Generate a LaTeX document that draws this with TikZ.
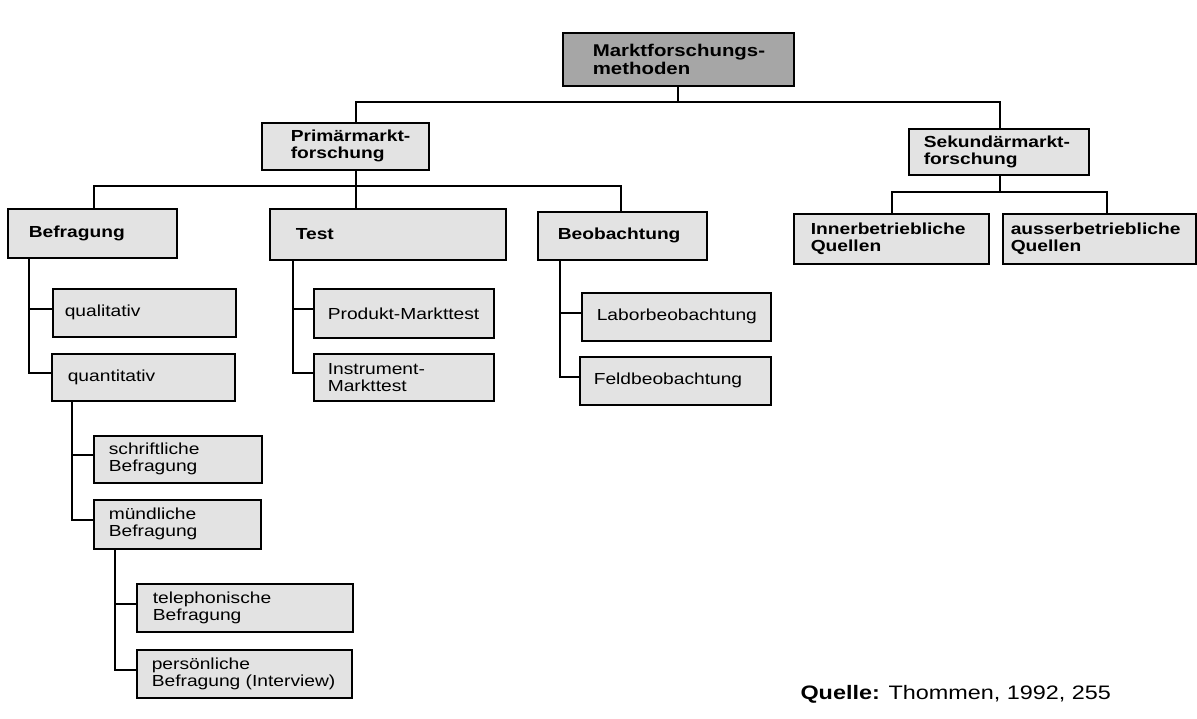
\documentclass[tikz,border=0pt]{standalone}
\usepackage{fontspec}
\setmainfont{Liberation Sans}[FakeStretch=1.2]
\usetikzlibrary{positioning, calc}
\hyphenpenalty=10000
\exhyphenpenalty=10000

\begin{document}
\begin{tikzpicture}[%
		x=1pt, y=-1pt,
		box/.style={
			rectangle,
			line width=1.6pt,
			black,
			draw,
			fill=black!11,
			anchor=north west,
			align=left,
			inner ysep=0pt,
			font=\fontsize{16}{17}\selectfont
		},
		headbox/.style={
			box,
			font=\fontsize{16}{17}\selectfont\bfseries
		},
		topbox/.style={
			headbox,
			fill=black!35,
			font=\fontsize{17}{18}\selectfont\bfseries
		},
		subbox/.style={
			box
		},
		boxsize/.style n args={3}{
			minimum width=#1,
			minimum height=#2,
			inner xsep=#3,
			text width=#1-2*#3
		},
		link/.style={
			line width=1.8pt,
			black
		}]

		\useasboundingbox (0,0) rectangle (1197,719);

		% LEVEL 1 AND 2

		\node (MF) [topbox, boxsize={231}{53}{30}] at (562,32) {Marktforschungs-\\methoden};
		\node (PM) [headbox, boxsize={167}{47}{29}] at (261,122) {Primärmarkt-\\forschung};
		\node (SM) [headbox, boxsize={180}{46}{15}] at (908,128) {Sekundärmarkt-\\forschung};

		% LEVEL 3

		\node (Bef) [headbox, boxsize={169}{49}{21}] at (7,208) {Befragung};
		\node (Tst) [headbox, boxsize={236}{51}{26}] at (269,208) {Test};
		\node (Beo) [headbox, boxsize={169}{48}{20}] at (537,211) {Beobachtung};
		\node (Inn) [headbox, boxsize={195}{50}{17}] at (793,213) {Innerbetriebliche\\Quellen};
		\node (Aus) [headbox, boxsize={193}{50}{8}] at (1002,213) {ausserbetriebliche\\Quellen};

		% LEVEL 4

		\node (Qual) [subbox, boxsize={183}{48}{12}] at (52,288) {qualitativ};
		\node (Quan) [subbox, boxsize={183}{47}{16}] at (51,353) {quantitativ};
		\node (Prod) [subbox, boxsize={180}{49}{14}] at (313,288) {Produkt-Markttest};
		\node (Inst) [subbox, boxsize={180}{47}{14}] at (313,353) {Instrument-\\Markttest};
		\node (Lab) [subbox, boxsize={189}{48}{15}] at (581,292) {Laborbeobachtung};
		\node (Feld) [subbox, boxsize={191}{48}{14}] at (579,356) {Feldbeobachtung};

		% LEVEL 5 AND 6

		\node (Schr) [subbox, boxsize={168}{47}{15}] at (93,435) {schriftliche\\Befragung};
		\node (Mue) [subbox, boxsize={167}{49}{15}] at (93,499) {mündliche\\Befragung};
		\node (Tel) [subbox, boxsize={216}{48}{16}] at (136,583) {telephonische\\Befragung};
		\node (Pers) [subbox, boxsize={215}{48}{15}] at (136,649) {persönliche\\Befragung (Interview)};

		\node (Src) [anchor=base west, font=\fontsize{19.5}{20}\selectfont] at (797,699) {\textbf{Quelle:} Thommen, 1992, 255};

		% JUNCTIONS

		\coordinate (J1) at (356,102);
		\coordinate (J2) at (1000,102);
		\coordinate (J3) at (94,186);
		\coordinate (J4) at (621,186);
		\coordinate (J5) at (892,192);
		\coordinate (J6) at (1107,192);

		% TREE LINES

		\draw[link] (MF.south) -- (MF.south |- J1);
		\draw[link] (PM.north -| J1) |- (J2) -- (J2 |- SM.north);
		\draw[link] (PM.south -| J1) -- (Tst.north -| J1);
		\draw[link] (Bef.north -| J3) |- (J4) -- (J4 |- Beo.north);
		\draw[link] (SM.south -| J2) -- (J2 |- J5);
		\draw[link] (Inn.north -| J5) |- (J6) -- (J6 |- Aus.north);

		% BRANCH LINES

		\draw[link] ([xshift=22]Bef.south west) |- ([yshift=4]Qual.west);
		\draw[link] ([xshift=22]Bef.south west) |- ([yshift=4]Quan.west);
		\draw[link] ([xshift=24]Tst.south west) |- ([yshift=4]Prod.west);
		\draw[link] ([xshift=24]Tst.south west) |- ([yshift=4]Inst.west);
		\draw[link] ([xshift=23]Beo.south west) |- ([yshift=4]Lab.west);
		\draw[link] ([xshift=23]Beo.south west) |- ([yshift=4]Feld.west);
		\draw[link] ([xshift=21]Quan.south west) |- ([yshift=4]Schr.west);
		\draw[link] ([xshift=21]Quan.south west) |- ([yshift=4]Mue.west);
		\draw[link] ([xshift=22]Mue.south west) |- ([yshift=4]Tel.west);
		\draw[link] ([xshift=22]Mue.south west) |- ([yshift=4]Pers.west);
\end{tikzpicture}
\end{document}
